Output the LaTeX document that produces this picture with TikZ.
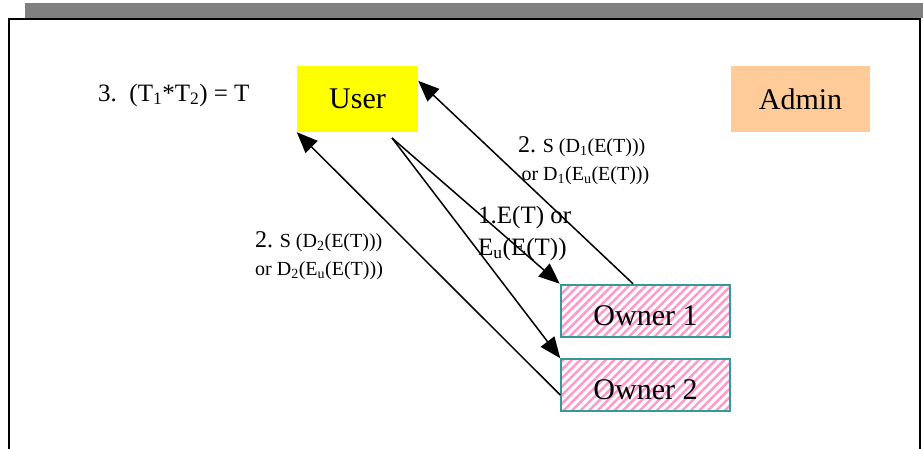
\documentclass[tikz,border=0pt]{standalone}
\usepackage{fontspec}
\setmainfont{Liberation Serif}
\usetikzlibrary{arrows.meta,positioning,patterns.meta}
\definecolor{Ink}{HTML}{000000}
\definecolor{Bar}{HTML}{808080}
\definecolor{UserFill}{HTML}{FFFF00}
\definecolor{AdminFill}{HTML}{FFCC99}
\definecolor{Stripe}{HTML}{FF99CC}
\definecolor{Teal}{HTML}{339999}
\tikzset{
  userbox/.style={fill=UserFill,minimum width=121pt,minimum height=66pt,inner sep=0pt,font=\fontsize{30}{34}\selectfont,text=Ink},
  adminbox/.style={fill=AdminFill,minimum width=139pt,minimum height=66pt,inner sep=0pt,font=\fontsize{30}{34}\selectfont,text=Ink},
  ownerbox/.style={draw=Teal,line width=1.5pt,pattern={Lines[angle=45,distance=6pt,line width=2.5pt]},pattern color=Stripe,minimum width=169pt,minimum height=52pt,inner sep=0pt,text height=28pt,text depth=0pt,font=\fontsize{30}{34}\selectfont,text=Ink},
  line/.style={-{Triangle[length=21pt,width=17pt]},draw=Ink,line width=1.5pt},
  lbl/.style={inner sep=0pt,anchor=base west,align=left,text=Ink}
}

\begin{document}
\begin{tikzpicture}[x=1pt,y=-1pt]
  \useasboundingbox (0,0) rectangle (923,448);
  % frame and top bar
  \fill[Bar] (25,3) rectangle (923,18);
  \draw[Ink,line width=2pt] (9,460) |- (920,19) -- (920,460);

  % boxes
  \node[userbox] (user) at (357.5,99) {User};
  \node[adminbox] (admin) at (800.5,99) {Admin};
  \node[ownerbox] (own1) at (645.5,311) {Owner 1};
  \node[ownerbox,below=20pt of own1] (own2) {Owner 2};
  \coordinate (split) at (392,138);

  % arrows
  \draw[line] (split) -- (own1.north west);
  \draw[line] (split) -- (own2.north west);
  \draw[line] ([xshift=-12.5pt]own1.north) -- ([yshift=-15pt]user.north east);
  \draw[line] ([yshift=-10pt]own2.west) -- (user.south west);

  % labels (anchor sits on the last line)
  \node[lbl,font=\fontsize{25}{30}\selectfont] (step3) at (98,101) {3.\ \ (T\textsubscript{1}*T\textsubscript{2}) = T};
  \node[lbl,font=\fontsize{20}{28}\selectfont] (ans1) at (518,180)
    {{\fontsize{24}{28}\selectfont 2.} S (D\textsubscript{1}(E(T)))\\
     \,or D\textsubscript{1}(E\textsubscript{u}(E(T)))};
  \node[lbl,font=\fontsize{25}{32}\selectfont] (req) at (478,255) {1.E(T) or\\E\textsubscript{u}(E(T))};
  \node[lbl,font=\fontsize{20}{28}\selectfont] (ans2) at (255,275)
    {{\fontsize{24}{28}\selectfont 2.} S (D\textsubscript{2}(E(T)))\\
     or D\textsubscript{2}(E\textsubscript{u}(E(T)))};
\end{tikzpicture}
\end{document}
